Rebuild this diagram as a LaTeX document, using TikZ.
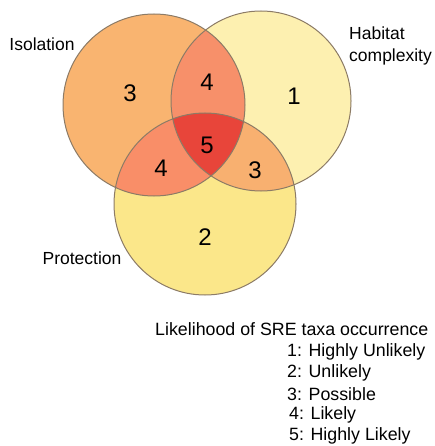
\documentclass[tikz,border=0pt]{standalone}
\usepackage{fontspec}
\setmainfont{Liberation Sans}
\definecolor{isocol}{HTML}{F9B470}
\definecolor{habcol}{HTML}{FDF0B0}
\definecolor{procol}{HTML}{FBE78A}
\definecolor{ihcol}{HTML}{F7906A}
\definecolor{ipcol}{HTML}{F98E68}
\definecolor{hpcol}{HTML}{F8B070}
\definecolor{allcol}{HTML}{E8453A}
\definecolor{rimcol}{HTML}{8C7B66}
\tikzset{
  region num/.style = {
    font = \fontsize{24}{28}\selectfont,
    text = black,
    inner sep = 0pt},
  set label/.style = {
    font = \fontsize{17.5}{22}\selectfont,
    align = left,
    inner sep = 0pt},
  legend line/.style = {
    font = \fontsize{17.8}{20}\selectfont,
    anchor = west,
    inner sep = 0pt},
  set rim/.style = {
    draw = rimcol,
    line width = 1pt}
}
\begin{document}
\begin{tikzpicture}[x=1pt, y=-1pt]
  \useasboundingbox (0,0) rectangle (435,446);
  % the three sets
  \def\isocirc{(154,105) circle[radius=91pt]}
  \def\habcirc{(261,101) circle[radius=90pt]}
  \def\procirc{(205,204) circle[radius=91pt]}
  \fill[isocol] \isocirc;
  \fill[habcol] \habcirc;
  \fill[procol] \procirc;
  % overlaps
  \begin{scope}
    \clip \isocirc; \fill[ihcol] \habcirc;
  \end{scope}
  \begin{scope}
    \clip \isocirc; \fill[ipcol] \procirc;
  \end{scope}
  \begin{scope}
    \clip \habcirc; \fill[hpcol] \procirc;
  \end{scope}
  \begin{scope}
    \clip \isocirc; \clip \habcirc; \fill[allcol] \procirc;
  \end{scope}
  \path[set rim] \isocirc;
  \path[set rim] \habcirc;
  \path[set rim] \procirc;
  % region scores
  \node[region num] (iso)    at (130,93)  {3};
  \node[region num] (isohab) at (207,82)  {4};
  \node[region num] (hab)    at (294,96)  {1};
  \node[region num] (all)    at (207,145) {5};
  \node[region num] (isopro) at (161,168) {4};
  \node[region num] (habpro) at (255,170) {3};
  \node[region num] (pro)    at (205,237) {2};
  % set names
  \node[set label] (isolabel) at (42,44) {Isolation};
  \node[set label, anchor = west] (hablabel) at (349,46) {Habitat\\complexity};
  \node[set label] (prolabel) at (82,258) {Protection};
  % legend
  \node[legend line] (legtitle) at (155,329) {Likelihood of SRE taxa occurrence};
  \node[legend line] (leg1) at (287,352) {1: Highly Unlikely};
  \node[legend line] (leg2) at (287,373) {2: Unlikely};
  \node[legend line] (leg3) at (287,394) {3: Possible};
  \node[legend line] (leg4) at (289,415) {4: Likely};
  \node[legend line] (leg5) at (289,436) {5: Highly Likely};
\end{tikzpicture}
\end{document}
